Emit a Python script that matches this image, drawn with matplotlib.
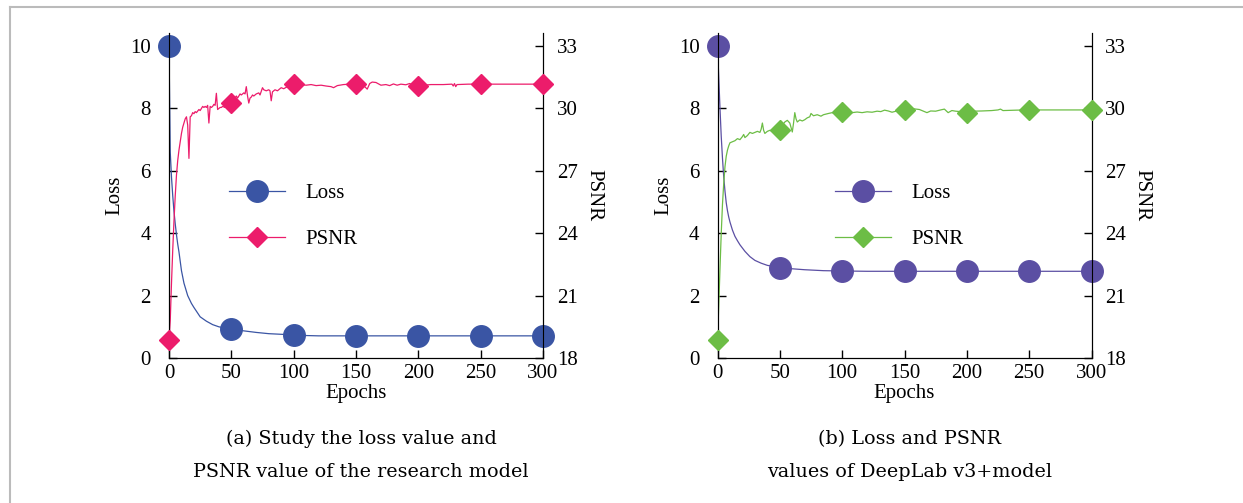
import numpy as np
import matplotlib
matplotlib.use('Agg')
import matplotlib.pyplot as plt
from matplotlib.lines import Line2D

plt.rcParams['font.family'] = 'Liberation Serif'

# marker positions (every 50 epochs)
mark_epochs = [0, 50, 100, 150, 200, 250, 300]

# (a) research model
loss_a_marks = [10, 0.93, 0.74, 0.71, 0.71, 0.71, 0.71]
psnr_a_marks = [18.87, 30.26, 31.17, 31.17, 31.08, 31.17, 31.17]

loss_a_ep = [0, 1, 2, 3, 4, 5, 6, 7, 8, 10, 12, 15, 18, 20, 25, 30, 35, 40, 45, 50,
             60, 70, 80, 90, 100, 110, 120, 150, 200, 250, 300]
loss_a = [10, 6.6, 5.8, 5.2, 4.7, 4.3, 3.95, 3.65, 3.4, 2.8, 2.4, 2.0, 1.75, 1.62, 1.32, 1.18, 1.07, 1.0, 0.96, 0.93,
          0.87, 0.82, 0.78, 0.76, 0.74, 0.72, 0.71, 0.71, 0.71, 0.71, 0.71]

psnr_a_ep = [0, 1, 2, 3, 4, 5, 6, 7, 8, 9, 10, 11, 12, 13, 14, 15, 16, 17, 18, 19,
             20, 21, 22, 24, 25, 26, 27, 28, 29, 30, 31, 32, 33, 34, 35, 36, 37, 38, 39, 40,
             41, 42, 43, 45, 47, 50, 52, 54, 55, 57, 58, 60, 61, 62, 63, 64, 65, 66, 67, 68,
             70, 72, 73, 75, 76, 78, 80, 81, 82, 83, 85, 87, 90, 92, 95, 100,
             103, 106, 110, 114, 118, 122, 126, 130, 132, 135, 140, 145, 150, 154, 157, 159,
             161, 163, 166, 170, 174, 177, 180, 183, 186, 190, 193, 196, 200, 205, 210, 220,
             227, 228, 229, 230, 231, 240, 250, 260, 280, 300]
psnr_a = [18.87, 19.8, 21.6, 23.2, 24.6, 25.8, 26.8, 27.5, 28.0, 28.4, 28.8, 29.1, 29.3, 29.5, 29.6, 29.2, 27.6, 29.6, 29.65, 29.8,
          29.75, 29.85, 29.8, 29.95, 29.9, 30.0, 30.1, 30.05, 30.1, 30.05, 30.15, 29.3, 30.1, 30.05, 30.1, 30.2, 30.15, 30.73, 29.95, 30.0,
          30.05, 30.05, 30.1, 30.05, 30.15, 30.26, 30.4, 30.6, 30.5, 30.7, 30.65, 30.75, 30.7, 31.05, 30.6, 30.26, 30.5, 30.55, 30.65, 30.6,
          30.7, 30.75, 30.65, 31.0, 30.9, 30.85, 30.9, 30.85, 30.37, 30.8, 30.9, 30.85, 31.0, 30.95, 31.05, 31.17,
          31.1, 31.15, 31.12, 31.15, 31.1, 31.12, 31.08, 31.05, 31.0, 31.1, 31.15, 31.17, 31.17, 31.15, 31.05, 30.93,
          31.2, 31.27, 31.25, 31.12, 31.15, 31.1, 31.18, 31.12, 31.17, 31.14, 31.2, 31.12, 31.08, 31.12, 31.15, 31.15,
          31.17, 31.08, 31.2, 31.05, 31.15, 31.17, 31.17, 31.17, 31.17, 31.17]

# (b) DeepLab v3+
loss_b_marks = [10, 2.9, 2.79, 2.78, 2.78, 2.78, 2.78]
psnr_b_marks = [18.85, 28.96, 29.85, 29.93, 29.78, 29.93, 29.93]

loss_b_ep = [0, 1, 2, 3, 4, 5, 6, 7, 8, 9, 10, 12, 14, 16, 18, 22, 26, 30, 35, 40, 50,
             60, 70, 85, 100, 120, 150, 200, 250, 300]
loss_b = [10, 9.0, 8.0, 7.1, 6.4, 5.8, 5.35, 4.98, 4.72, 4.52, 4.36, 4.1, 3.9, 3.76, 3.63, 3.42, 3.25, 3.13, 3.04, 2.97, 2.9,
          2.86, 2.83, 2.8, 2.79, 2.78, 2.78, 2.78, 2.78, 2.78]

psnr_b_ep = [0, 1, 2, 3, 4, 5, 6, 7, 8, 9, 10, 12, 14, 16, 18, 20, 21, 22, 24, 26,
             28, 30, 32, 34, 35, 36, 37, 38, 40, 42, 45, 47, 50, 52, 54, 56, 58, 60, 61, 62,
             63, 64, 66, 68, 70, 72, 74, 75, 77, 80, 83, 85, 89, 92, 95, 100,
             105, 108, 112, 116, 120, 124, 128, 131, 134, 137, 140, 145, 150, 155, 158, 162,
             166, 168, 171, 175, 179, 182, 185, 188, 191, 195, 200, 205, 212, 220, 225, 227,
             229, 240, 250, 275, 300]
psnr_b = [18.85, 20.5, 22.3, 24.0, 25.4, 26.4, 27.2, 27.7, 28.0, 28.2, 28.35, 28.4, 28.45, 28.55, 28.5, 28.65, 28.75, 28.6, 28.7, 28.85,
          28.8, 28.85, 28.9, 28.85, 29.0, 29.3, 28.95, 28.8, 28.9, 28.95, 28.9, 28.95, 28.96, 29.2, 29.35, 29.43, 29.3, 28.87, 29.3, 29.8,
          29.5, 29.35, 29.45, 29.4, 29.46, 29.55, 29.6, 29.76, 29.65, 29.7, 29.63, 29.7, 29.76, 29.8, 29.75, 29.85,
          29.82, 29.8, 29.83, 29.8, 29.84, 29.82, 29.87, 29.85, 29.92, 29.88, 29.82, 29.9, 29.93, 29.95, 29.98, 29.95,
          29.85, 29.8, 29.88, 29.87, 29.93, 29.97, 29.8, 29.9, 29.87, 29.85, 29.78, 29.87, 29.88, 29.9, 29.93, 29.97,
          29.9, 29.92, 29.93, 29.93, 29.93]

captions = ['(a) Study the loss value and\nPSNR value of the research model',
            '(b) Loss and PSNR\nvalues of DeepLab v3+model']

W, H = 1243, 503
fig = plt.figure(figsize=(W / 100, H / 100), dpi=100)

# thin grey frame around the figure
fig.add_artist(Line2D([10 / W, 1.0], [1 - 7 / H, 1 - 7 / H], color='#bbbbbb', lw=1.5, transform=fig.transFigure))
fig.add_artist(Line2D([10 / W, 10 / W], [0, 1 - 7 / H], color='#bbbbbb', lw=1.5, transform=fig.transFigure))

panels = [
    dict(left=169, loss_ep=loss_a_ep, loss=loss_a, loss_m=loss_a_marks,
         psnr_ep=psnr_a_ep, psnr=psnr_a, psnr_m=psnr_a_marks,
         c_loss='#3a55a4', c_psnr='#ec1c6b', leg_x=0.16),
    dict(left=717.5, loss_ep=loss_b_ep, loss=loss_b, loss_m=loss_b_marks,
         psnr_ep=psnr_b_ep, psnr=psnr_b, psnr_m=psnr_b_marks,
         c_loss='#5b4fa3', c_psnr='#6cbd45', leg_x=0.314),
]

ytop = 10.42
fs = 15
for p, cap in zip(panels, captions):
    ax = fig.add_axes([p['left'] / W, (H - 358) / H, 374 / W, (358 - 33) / H])
    ax2 = ax.twinx()

    ax.plot(p['loss_ep'], p['loss'], color=p['c_loss'], lw=0.9)
    ax.plot(mark_epochs, p['loss_m'], 'o', color=p['c_loss'], ms=15.5, clip_on=False, zorder=5)
    ax2.plot(p['psnr_ep'], p['psnr'], color=p['c_psnr'], lw=0.9)
    ax2.plot(mark_epochs, p['psnr_m'], 'D', color=p['c_psnr'], ms=10.5, clip_on=False, zorder=5)

    ax.set_xlim(0, 300)
    ax.set_ylim(0, ytop)
    ax2.set_ylim(18, 18 + ytop * 1.5)
    ax.set_xticks(range(0, 301, 50))
    ax.set_yticks(range(0, 11, 2))
    ax2.set_yticks(range(18, 34, 3))
    for a in (ax, ax2):
        a.spines['top'].set_visible(False)
        a.tick_params(direction='in', labelsize=fs, length=6, width=1)
    ax.tick_params(axis='y', pad=13)
    ax2.tick_params(axis='y', pad=10)
    ax.tick_params(axis='x', pad=4)

    ax.set_xlabel('Epochs', fontsize=fs, labelpad=1)
    ax.set_ylabel('Loss', fontsize=fs, labelpad=4)
    ax2.set_ylabel('PSNR', fontsize=fs, rotation=270, labelpad=18)

    handles = [Line2D([], [], color=p['c_loss'], lw=0.9, marker='o', ms=15.5),
               Line2D([], [], color=p['c_psnr'], lw=0.9, marker='D', ms=10.5)]
    ax2.legend(handles, ['Loss', 'PSNR'], loc='upper left', bbox_to_anchor=(p['leg_x'], 0.536),
               frameon=False, fontsize=fs, handlelength=2.7, handletextpad=0.95,
               labelspacing=1.25, borderpad=0, borderaxespad=0)

    cx = (p['left'] + 192) / W
    fig.text(cx, 1 - 455.5 / H, cap, ha='center', va='center', fontsize=13.8,
             family='DejaVu Serif', linespacing=2.1)

fig.savefig('out.png', dpi=100)
